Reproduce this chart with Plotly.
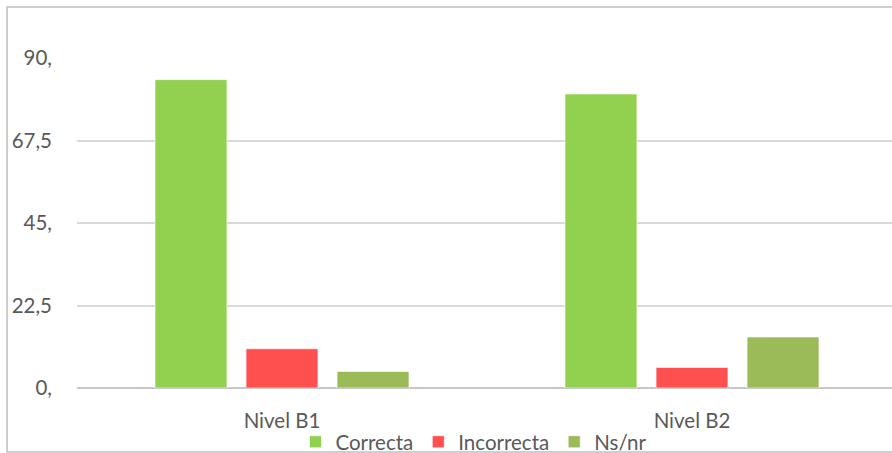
import plotly.graph_objects as go

categories = ["Nivel B1", "Nivel B2"]
correcta = [84.1, 80.2]
incorrecta = [10.7, 5.6]
nsnr = [4.5, 13.9]
series_names = ["Correcta", "Incorrecta", "Ns/nr"]
tick_vals = [0, 22.5, 45, 67.5, 90]
tick_text = ["0,", "22,5", "45,", "67,5", "90,"]

colors = ["#92d050", "#ff5050", "#9bbb59"]
FONT = "Lato"
W, H = 892, 453
L, R, T, B = 77, 0, 57.5, 65

fig = go.Figure()
for name, vals, col in zip(series_names, [correcta, incorrecta, nsnr], colors):
    fig.add_trace(go.Bar(
        x=list(range(len(categories))), y=vals, name=name,
        marker=dict(color=col, line=dict(color="rgba(255,255,255,0.6)", width=1)),
        hoverinfo="skip",
    ))

pw = W - L - R
ph = H - T - B
fig.update_layout(
    width=W, height=H,
    margin=dict(l=L, r=R, t=T, b=B, pad=0, autoexpand=False),
    paper_bgcolor="white", plot_bgcolor="white",
    barmode="group", bargap=0.334, bargroupgap=0.21,
    font=dict(family=FONT, size=20.5, color="#595959"),
    showlegend=True,
    legend=dict(orientation="h", x=(474 - L) / pw, xanchor="center",
                y=-(442 - (H - B)) / ph, yanchor="middle",
                font=dict(size=20.5, color="#595959"),
                itemwidth=30, tracegroupgap=0, bgcolor="rgba(0,0,0,0)"),
    xaxis=dict(range=[-0.5, (pw / 410) - 0.5], tickvals=list(range(len(categories))),
               ticktext=categories, showgrid=False, zeroline=False,
               showline=False, ticks="", ticklabelstandoff=18, fixedrange=True,
               automargin=False),
    yaxis=dict(range=[0, 90], tickvals=tick_vals, ticktext=tick_text,
               showgrid=True, gridcolor="#d9d9d9", gridwidth=1.5,
               zeroline=True, zerolinecolor="#c8c8c8", zerolinewidth=2,
               showline=False, ticks="", ticklabelstandoff=24, fixedrange=True,
               automargin=False),
    shapes=[dict(type="rect", xref="paper", yref="paper",
                 x0=(7 - L) / pw, x1=1.05, y0=-(452 - (H - B)) / ph, y1=1 + (T - 6.5) / ph,
                 line=dict(color="#bfbfbf", width=1.5), fillcolor="rgba(0,0,0,0)", layer="below")],
)
fig.write_html("out.html", config={"displayModeBar": False})
